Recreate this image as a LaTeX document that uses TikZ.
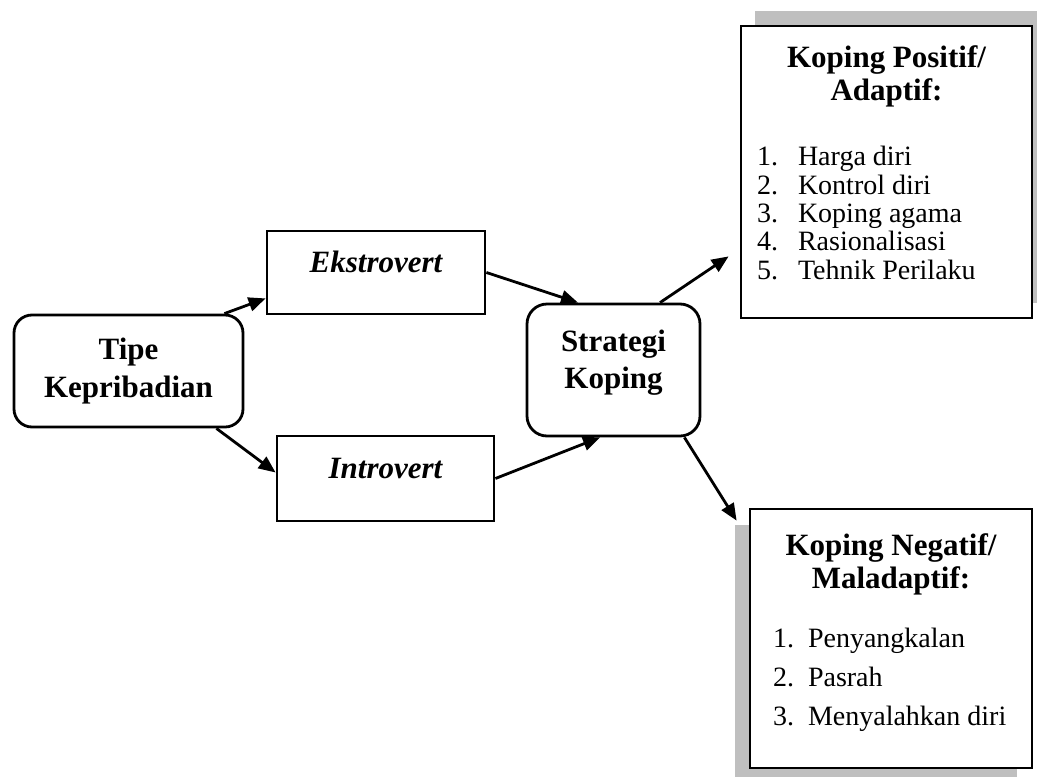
\documentclass[tikz,border=0pt]{standalone}
\usepackage{fontspec}
\setmainfont{Liberation Serif}
\usetikzlibrary{arrows.meta,shadows}

\newcommand{\headfont}{\fontsize{15.5pt}{18.75pt}\selectfont\bfseries}
\newcommand{\boxhead}{\fontsize{15.5pt}{16.5pt}\selectfont\bfseries}

\tikzset{
  roundbox/.style={draw, line width=1.4pt, rounded corners=9pt, align=center, font=\headfont, inner sep=0pt},
  typebox/.style={draw, line width=1.4pt, font=\headfont\itshape, inner sep=0pt, text height=10pt, text depth=10pt},
  outbox/.style={draw, line width=1.4pt, fill=white, inner sep=0pt},
  flow/.style={->, line width=1.4pt},
}

\begin{document}
\begin{tikzpicture}[x=0.5pt, y=-0.5pt, >={Triangle[length=8.5pt,width=7pt]}]
\useasboundingbox (0,0) rectangle (1037,776);

\node[roundbox, minimum width=114.5pt, minimum height=56pt] at (128.5, 371) (tipe) {Tipe\\Kepribadian};
\node[typebox, minimum width=109pt, minimum height=41.5pt] at (376, 272.5) (ekstro) {Ekstrovert};
\node[typebox, minimum width=108.5pt, minimum height=42.5pt] at (385.5, 478.5) (intro) {Introvert};
\node[roundbox, rounded corners=10pt, minimum width=86.5pt, minimum height=66pt] at (613.5, 370) (strat) {Strategi\\Koping\rule[-11pt]{0pt}{11pt}};

% hasil koping
\node[outbox, general shadow={fill=gray!50, shadow xshift=7pt, shadow yshift=7.5pt},
      minimum width=145.5pt, minimum height=146pt] at (886.5, 172) (pos) {%
  \begin{minipage}[c][146pt][t]{145.5pt}
  \vspace*{10pt}
  {\centering\boxhead Koping Positif/\\Adaptif:\par}
  \vspace{18.35pt}
  {\fontsize{14pt}{14.15pt}\selectfont
  \hspace*{8pt}\makebox[20.5pt][l]{1.}Harga diri\\
  \hspace*{8pt}\makebox[20.5pt][l]{2.}Kontrol diri\\
  \hspace*{8pt}\makebox[20.5pt][l]{3.}Koping agama\\
  \hspace*{8pt}\makebox[20.5pt][l]{4.}Rasionalisasi\\
  \hspace*{8pt}\makebox[20.5pt][l]{5.}Tehnik Perilaku\par}
  \end{minipage}};
\node[outbox, general shadow={fill=gray!50, shadow xshift=-7.5pt, shadow yshift=-8pt},
      minimum width=141pt, minimum height=129.5pt] at (891, 638.5) (neg) {%
  \begin{minipage}[c][129.5pt][t]{141pt}
  \vspace*{12.3pt}
  {\centering\boxhead Koping Negatif/\\Maladaptif:\par}
  \vspace{10pt}
  {\fontsize{14pt}{19.5pt}\selectfont
  \hspace*{11.5pt}\makebox[17.5pt][l]{1.}Penyangkalan\\
  \hspace*{11.5pt}\makebox[17.5pt][l]{2.}Pasrah\\
  \hspace*{11.5pt}\makebox[17.5pt][l]{3.}Menyalahkan diri\par}
  \end{minipage}};

\draw[flow] ([xshift=-10pt]tipe.north east) -- ([yshift=8.5pt]ekstro.south west);
\draw[flow] ([xshift=-14pt]tipe.south east) -- ([yshift=3pt]intro.west);
\draw[flow] (ekstro.east) -- ([xshift=-17.75pt]strat.north);
\draw[flow] (intro.east) -- ([xshift=-6.75pt]strat.south);
\draw[flow] ([xshift=23.25pt]strat.north) -- ([xshift=-5.5pt, yshift=31.5pt]pos.south west);
\draw[flow] ([xshift=-8.5pt]strat.south east) -- ([xshift=-6pt, yshift=-6.5pt]neg.north west);

\end{tikzpicture}
\end{document}
